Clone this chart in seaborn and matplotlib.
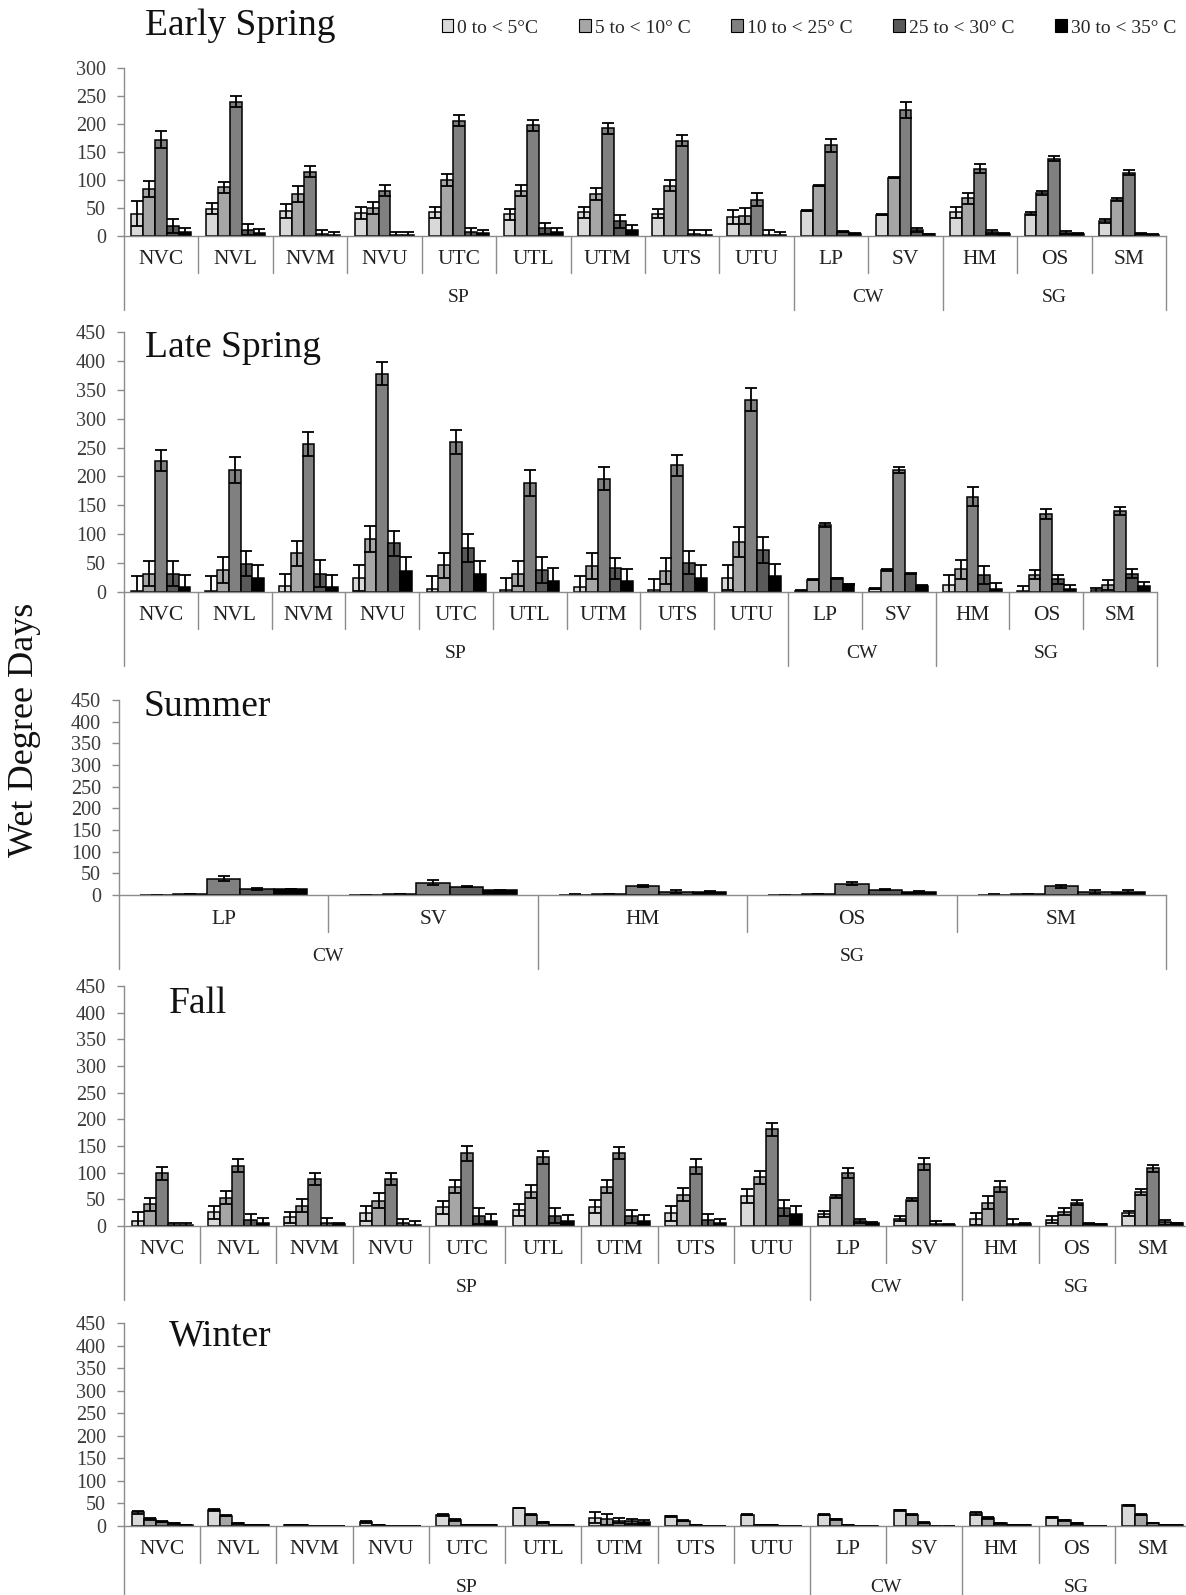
import numpy as np
import pandas as pd
import seaborn as sns
import matplotlib
matplotlib.use("Agg")
import matplotlib.pyplot as plt
import matplotlib.patches as mpatches

sns.set_theme(style="white")
plt.rcParams["font.family"] = ["Liberation Serif", "DejaVu Serif"]

bins = ["0 to < 5°C", "5 to < 10° C", "10 to < 25° C", "25 to < 30° C", "30 to < 35° C"]
sites = ["NVC", "NVL", "NVM", "NVU", "UTC", "UTL", "UTM", "UTS", "UTU", "LP", "SV", "HM", "OS", "SM"]
site_groups = ["SP"] * 9 + ["CW"] * 2 + ["SG"] * 3
summer_sites = ["LP", "SV", "HM", "OS", "SM"]
summer_groups = ["CW", "CW", "SG", "SG", "SG"]

# one row per temperature bin, one column per site
early_mean = [[40, 49, 45, 41, 42, 39, 42, 40, 34, 45, 38, 42, 40, 27],
              [84, 87, 75, 50, 100, 81, 75, 90, 36, 90, 104, 67, 77, 65],
              [172, 240, 115, 81, 206, 198, 192, 170, 65, 162, 225, 120, 138, 113],
              [18, 11, 4, 1, 7, 14, 26, 3, 2, 8, 11, 7, 6, 4],
              [8, 6, 1, 1, 5, 8, 11, 2, 1, 4, 3, 4, 4, 2]]
early_err = [[22, 10, 12, 10, 10, 10, 10, 8, 13, 1, 1, 10, 3, 3],
             [14, 10, 14, 10, 10, 10, 10, 10, 14, 1, 1, 9, 4, 3],
             [15, 10, 10, 10, 10, 10, 10, 10, 11, 12, 14, 8, 4, 4],
             [12, 10, 6, 7, 8, 10, 12, 8, 9, 1, 4, 3, 3, 1],
             [6, 6, 6, 7, 6, 7, 8, 8, 7, 1, 1, 1, 1, 1]]

late_mean = [[1, 2, 11, 24, 6, 4, 9, 3, 25, 2, 6, 12, 2, 3],
             [32, 38, 67, 92, 46, 32, 45, 36, 86, 21, 38, 39, 30, 12],
             [227, 211, 256, 378, 259, 189, 196, 219, 333, 116, 211, 165, 135, 140],
             [32, 49, 32, 84, 76, 38, 41, 51, 73, 24, 32, 29, 22, 32],
             [9, 25, 9, 36, 32, 19, 19, 25, 27, 13, 11, 6, 6, 11]]
late_err = [[26, 26, 20, 22, 22, 20, 19, 20, 22, 1, 1, 18, 8, 4],
            [22, 22, 22, 22, 21, 22, 22, 22, 26, 1, 1, 16, 8, 9],
            [18, 22, 21, 20, 21, 22, 20, 18, 20, 3, 5, 16, 8, 7],
            [22, 22, 23, 22, 24, 22, 18, 20, 22, 1, 1, 16, 8, 8],
            [20, 22, 20, 24, 22, 22, 20, 22, 21, 1, 1, 10, 6, 7]]

summer_mean = [[1, 1, 0, 1, 0],
               [2, 2, 2, 2, 2],
               [38, 28, 21, 26, 20],
               [14, 19, 8, 12, 7],
               [14, 11, 8, 8, 7]]
summer_err = [[0, 0, 3, 0, 3],
              [0, 0, 0, 0, 0],
              [6, 6, 2, 3, 3],
              [3, 1, 3, 1, 4],
              [1, 1, 1, 1, 4]]

fall_mean = [[9, 26, 16, 24, 35, 30, 36, 24, 57, 22, 14, 13, 12, 24],
             [41, 53, 38, 47, 74, 64, 74, 59, 91, 55, 49, 44, 27, 64],
             [99, 113, 88, 88, 136, 129, 137, 111, 181, 99, 116, 74, 44, 108],
             [2, 11, 5, 6, 18, 19, 18, 11, 34, 9, 4, 3, 4, 7],
             [2, 6, 3, 2, 9, 9, 9, 5, 22, 5, 2, 4, 3, 5]]
fall_err = [[17, 12, 10, 14, 12, 12, 12, 14, 13, 6, 5, 12, 6, 5],
            [12, 12, 12, 14, 13, 12, 12, 12, 12, 3, 3, 12, 6, 6],
            [12, 12, 12, 12, 14, 12, 12, 14, 12, 9, 11, 11, 5, 6],
            [4, 12, 10, 8, 15, 14, 12, 12, 15, 4, 5, 10, 1, 5],
            [4, 9, 3, 7, 14, 12, 12, 8, 15, 2, 1, 1, 1, 1]]

winter_mean = [[30, 35, 2, 8, 25, 40, 18, 22, 25, 25, 35, 28, 19, 46],
               [15, 23, 2, 2, 14, 25, 15, 12, 2, 15, 25, 18, 13, 25],
               [9, 6, 1, 0.5, 2, 8, 12, 2, 2, 3, 7, 6, 6, 6],
               [6, 3, 0, 0, 2, 2, 10, 0.5, 1, 1, 1, 2, 1, 2],
               [3, 2, 0, 0, 2, 2, 8, 0.5, 0.5, 0.5, 0.5, 2, 0.5, 2]]
winter_err = [[3, 2, 0, 2, 2, 1, 12, 1, 1, 1, 1, 3, 1, 1],
              [2, 1, 0, 0, 2, 1, 12, 1, 0, 1, 1, 3, 1, 1],
              [1, 1, 0, 0, 0, 1, 5, 0, 0, 0, 1, 1, 1, 0],
              [1, 0, 0, 0, 0, 0, 5, 0, 0, 0, 0, 0, 0, 0],
              [0, 0, 0, 0, 0, 0, 5, 0, 0, 0, 0, 0, 0, 0]]

colors = ["#d9d9d9", "#a6a6a6", "#808080", "#595959", "#000000"]
GRAY = "#8c8c8c"
W, H = 1186, 1595

fig = plt.figure(figsize=(W / 100, H / 100), dpi=100)


def long_table(cats, means):
    rows = []
    for b, vals in zip(bins, means):
        for c, v in zip(cats, vals):
            rows.append({"site": c, "bin": b, "wdd": v})
    return pd.DataFrame(rows)


def panel(px_left, px_right, px_top, px_zero, cats, groups, means, errs, ymax,
          title, title_x, title_base):
    rect = [px_left / W, 1 - px_zero / H, (px_right - px_left) / W, (px_zero - px_top) / H]
    h_px = px_zero - px_top
    ax = fig.add_axes(rect)
    sns.barplot(data=long_table(cats, means), x="site", y="wdd", hue="bin",
                order=cats, hue_order=bins, palette=colors, errorbar=None,
                edgecolor="black", linewidth=1.1, width=0.8, legend=False, ax=ax)
    for cont, err in zip(ax.containers, errs):
        xs = [p.get_x() + p.get_width() / 2 for p in cont.patches]
        hs = [p.get_height() for p in cont.patches]
        ax.errorbar(xs, hs, yerr=err, fmt="none", ecolor="black",
                    elinewidth=1.3, capsize=4, capthick=1.3)

    n = len(cats)
    ax.set_xlim(-0.5, n - 0.5)
    ax.set_ylim(0, ymax)
    ax.set_yticks(np.arange(0, ymax + 1, 50))
    ax.set_xticks([])
    ax.set_xlabel("")
    ax.set_ylabel("")
    for s in ["top", "right"]:
        ax.spines[s].set_visible(False)
    for s in ["left", "bottom"]:
        ax.spines[s].set_color(GRAY)
        ax.spines[s].set_linewidth(1.0)
    ax.tick_params(axis="y", left=True, length=5, width=1, color=GRAY,
                   labelsize=14.5, pad=8, labelcolor="#3a3a3a")

    # two-level category axis below the bars
    tr = ax.get_xaxis_transform()
    for b in range(n + 1):
        edge = b == 0 or b == n or groups[b - 1] != groups[b]
        depth = 74 if edge else 37
        ax.plot([b - 0.5, b - 0.5], [0, -depth / h_px], color=GRAY, lw=1.0,
                transform=tr, clip_on=False)
    for i, c in enumerate(cats):
        ax.text(i, -24 / h_px, c, transform=tr, ha="center", va="center",
                fontsize=15.5, color="#222222", clip_on=False)
    for g in dict.fromkeys(groups):
        idx = [i for i, gg in enumerate(groups) if gg == g]
        ax.text(np.mean(idx), -61 / h_px, g, transform=tr, ha="center",
                va="center", fontsize=14, color="#222222", clip_on=False)

    fig.text(title_x / W, 1 - title_base / H, title, fontsize=27,
             va="baseline", ha="left", color="#111111")
    return ax


panel(124, 1166, 68, 236, sites, site_groups, early_mean, early_err, 300,
      "Early Spring", 145, 35)
panel(124, 1157, 332, 592, sites, site_groups, late_mean, late_err, 450,
      "Late Spring", 145, 357)
panel(119, 1166, 700, 895, summer_sites, summer_groups, summer_mean, summer_err, 450,
      "Summer", 143, 716)
panel(124, 1191, 986, 1226, sites, site_groups, fall_mean, fall_err, 450,
      "Fall", 169, 1013)
panel(124, 1191, 1323, 1526, sites, site_groups, winter_mean, winter_err, 450,
      "Winter", 169, 1345)

fig.text(25 / W, 1 - 730 / H, "Wet Degree Days", rotation=90, fontsize=26,
         ha="center", va="center", color="#111111")

handles = [mpatches.Patch(facecolor=c, edgecolor="black", linewidth=0.8) for c in colors]
fig.legend(handles, bins, loc="center right", bbox_to_anchor=(1176 / W, 1 - 28 / H),
           ncol=5, frameon=False, fontsize=14, handlelength=0.6, handleheight=0.6,
           handletextpad=0.2, columnspacing=2.1, borderaxespad=0, borderpad=0)

fig.savefig("out.png", dpi=100)
